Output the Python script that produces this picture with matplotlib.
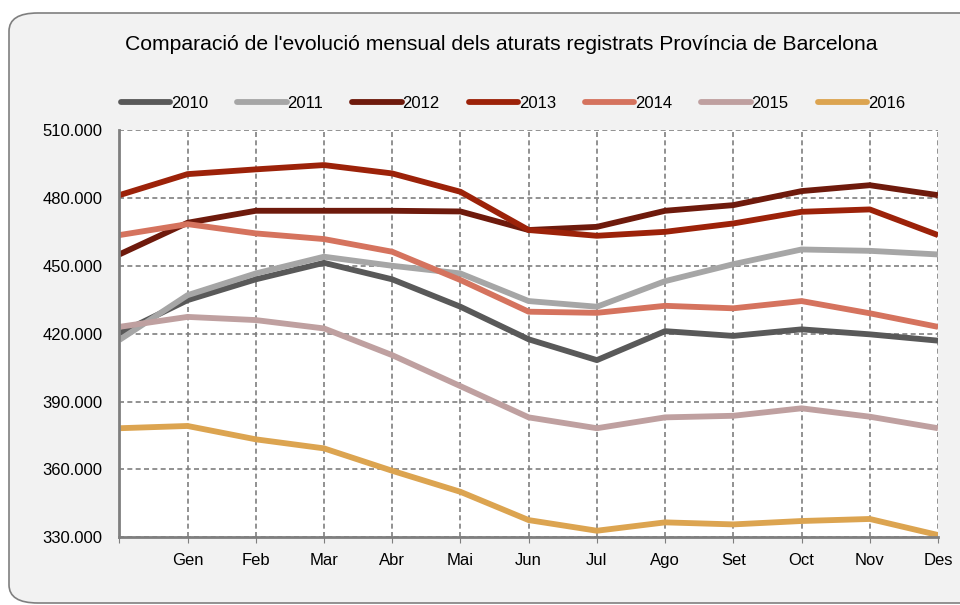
import matplotlib
matplotlib.use('Agg')
import matplotlib.pyplot as plt
from matplotlib.patches import FancyBboxPatch
from matplotlib.ticker import FuncFormatter

plt.rcParams['font.family'] = ['Liberation Sans', 'DejaVu Sans']

months = ['', 'Gen', 'Feb', 'Mar', 'Abr', 'Mai', 'Jun', 'Jul', 'Ago', 'Set', 'Oct', 'Nov', 'Des']

y2010 = [420100, 434800, 444000, 451300, 444000, 431900, 417500, 408300, 421100, 419000, 421900, 419700, 416900]
y2011 = [417200, 437000, 446600, 454000, 450000, 446600, 434400, 431900, 443200, 450700, 457200, 456600, 455000]
y2012 = [455000, 469000, 474300, 474300, 474300, 474000, 465800, 467200, 474300, 476800, 483000, 485600, 481200]
y2013 = [481200, 490500, 492600, 494500, 490800, 482700, 465800, 463250, 465000, 468700, 473850, 474900, 463550]
y2014 = [463550, 468400, 464300, 461800, 456200, 443700, 429700, 429200, 432300, 431200, 434400, 429000, 423000]
y2015 = [423000, 427400, 426000, 422300, 410500, 396800, 383000, 378200, 383000, 383700, 387000, 383300, 378200]
y2016 = [378200, 379200, 373300, 369300, 359400, 350100, 337600, 332900, 336600, 335700, 337200, 338100, 331000]

series = {
    '2010': (y2010, '#595959'),
    '2011': (y2011, '#A6A6A6'),
    '2012': (y2012, '#6E1A0C'),
    '2013': (y2013, '#9C2209'),
    '2014': (y2014, '#D5735E'),
    '2015': (y2015, '#BFA0A0'),
    '2016': (y2016, '#DCA450'),
}

fig = plt.figure(figsize=(9.6, 6.05), dpi=100)
fig.patch.set_facecolor('white')

# rounded grey panel behind everything (runs off the right edge)
box = FancyBboxPatch((9 / 960, 1 - 603 / 605), 1.1, (603 - 13) / 605,
                     boxstyle='round,pad=0,rounding_size=0.03',
                     transform=fig.transFigure, facecolor='#F2F2F2',
                     edgecolor='#7F7F7F', linewidth=1.2, zorder=-10)
fig.patches.append(box)

ax = fig.add_axes([119.3 / 960, 1 - 537.3 / 605, (938 - 119.3) / 960, (537.3 - 130) / 605])
ax.set_facecolor('white')

x = list(range(len(months)))
for name, (vals, col) in series.items():
    ax.plot(x, vals, color=col, linewidth=4.2, label=name, solid_capstyle='butt')

ax.set_xlim(0, 12)
ax.set_ylim(330000, 510000)
ax.set_yticks(range(330000, 510001, 30000))
ax.yaxis.set_major_formatter(FuncFormatter(lambda v, p: f'{int(v):,}'.replace(',', '.')))
ax.set_xticks(x)
ax.set_xticklabels(months)

ax.grid(True, color='#7F7F7F', linestyle=(0, (3, 2)), linewidth=1.2)
ax.set_axisbelow(True)
for s in ['top', 'right']:
    ax.spines[s].set_visible(False)
for s in ['left', 'bottom']:
    ax.spines[s].set_color('#7F7F7F')
    ax.spines[s].set_linewidth(2)
ax.tick_params(axis='y', length=0, labelsize=12, pad=12)
ax.tick_params(axis='x', length=4, color='#7F7F7F', labelsize=12, pad=7)

fig.text(501 / 960, 1 - 45 / 605, "Comparació de l'evolució mensual dels aturats registrats Província de Barcelona",
         ha='center', va='center', fontsize=15.2)

leg = fig.legend(loc='center', bbox_to_anchor=(513 / 960, 1 - 103 / 605), ncol=7, frameon=False,
                 fontsize=12, handlelength=2.95, handletextpad=0.05, columnspacing=1.75)
for h in leg.legend_handles:
    h.set_linewidth(4.2)
    h.set_solid_capstyle('round')

fig.savefig('out.png', dpi=100, facecolor=fig.get_facecolor())
